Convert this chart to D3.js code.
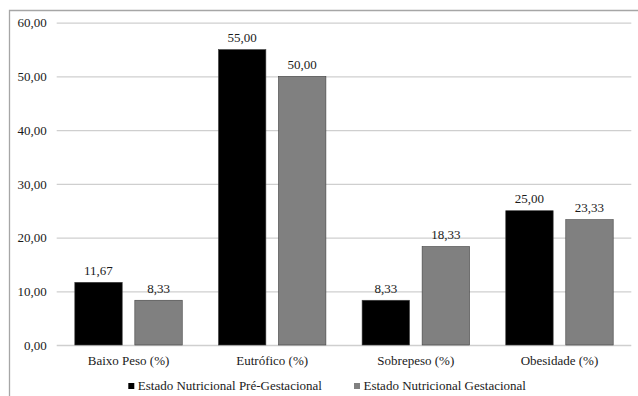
<!DOCTYPE html>
<html><head><meta charset="utf-8">
<script src="https://cdn.jsdelivr.net/npm/d3@7"></script>
<style>
html,body{margin:0;padding:0;background:#fff;}
svg{display:block;}
</style></head>
<body>
<svg id="c" width="638" height="396"></svg>
<script>
const categories = ["Baixo Peso (%)", "Eutrófico (%)", "Sobrepeso (%)", "Obesidade (%)"];
const seriesNames = ["Estado Nutricional Pré-Gestacional", "Estado Nutricional Gestacional"];
const preGestacional = [11.67, 55.00, 8.33, 25.00];
const gestacional = [8.33, 50.00, 18.33, 23.33];
const yTicks = [0, 10, 20, 30, 40, 50, 60];
const colors = ["#000000", "#808080"];

(function () {
const FONT = "Liberation Serif";
const FS = 13;
const svg = d3.select("#c");
const locale = d3.formatLocale({decimal: ",", thousands: ".", grouping: [3], currency: ["", ""]});
const fmt = locale.format(".2f");

const pLeft = 56.7, pRight = 631.3, pTop = 22.7, pBottom = 345;
const y = d3.scaleLinear().domain([0, 60]).range([pBottom, pTop]);
const x0 = d3.scaleBand().domain(categories).range([pLeft, pRight]).paddingInner(0).paddingOuter(0);
const x1 = d3.scaleBand().domain(seriesNames).range([18.1, x0.bandwidth() - 18.1]).paddingInner(0.21).paddingOuter(0);

// outer frame
svg.append("path").attr("d", "M9.5,396 L9.5,10.5 L638,10.5")
  .attr("fill", "none").attr("stroke", "#a6a6a6").attr("stroke-width", 1.3);

// grid + y axis
const ya = svg.append("g").attr("transform", `translate(${pLeft},0)`)
  .call(d3.axisLeft(y).tickValues(yTicks).tickSize(-(pRight - pLeft)).tickPadding(10).tickFormat(fmt));
ya.attr("font-family", FONT);
ya.select(".domain").remove();
ya.selectAll(".tick line").attr("stroke", "#cfcfcf").attr("stroke-width", 1.3);
ya.selectAll(".tick text").attr("font-size", FS).attr("font-family", FONT).style("font-family", FONT).attr("fill", "#1a1a1a");

const data = categories.map((c, i) => ({cat: c, vals: [
  {s: seriesNames[0], v: preGestacional[i], color: colors[0]},
  {s: seriesNames[1], v: gestacional[i], color: colors[1]}]}));

const g = svg.append("g").selectAll("g").data(data).join("g")
  .attr("transform", d => `translate(${x0(d.cat)},0)`);

g.selectAll("rect").data(d => d.vals).join("rect")
  .attr("x", d => x1(d.s)).attr("width", x1.bandwidth())
  .attr("y", d => y(d.v)).attr("height", d => y(0) - y(d.v))
  .attr("fill", d => d.color).attr("stroke", "#404040").attr("stroke-width", 0.6);

g.selectAll("text").data(d => d.vals).join("text")
  .attr("x", d => x1(d.s) + x1.bandwidth() / 2)
  .attr("y", d => y(d.v) - 7.5)
  .attr("text-anchor", "middle").attr("font-size", FS)
  .attr("font-family", FONT).style("font-family", FONT).attr("fill", "#1a1a1a")
  .text(d => fmt(d.v));

// category labels
svg.append("g").selectAll("text").data(categories).join("text")
  .attr("x", d => x0(d) + x0.bandwidth() / 2).attr("y", 364.5)
  .attr("text-anchor", "middle").attr("font-size", FS)
  .attr("font-family", FONT).style("font-family", FONT).attr("fill", "#1a1a1a")
  .text(d => d);

// legend
const legendX = [128.3, 354];
const lg = svg.append("g").selectAll("g").data(seriesNames).join("g")
  .attr("transform", (d, i) => `translate(${legendX[i]},0)`);
lg.append("rect").attr("x", 0).attr("y", 383).attr("width", 6).attr("height", 6)
  .attr("fill", (d, i) => colors[i]);
lg.append("text").attr("x", 9.5).attr("y", 390).attr("font-size", FS)
  .attr("font-family", FONT).style("font-family", FONT).attr("fill", "#1a1a1a")
  .text(d => d);
})();
</script>
</body></html>
